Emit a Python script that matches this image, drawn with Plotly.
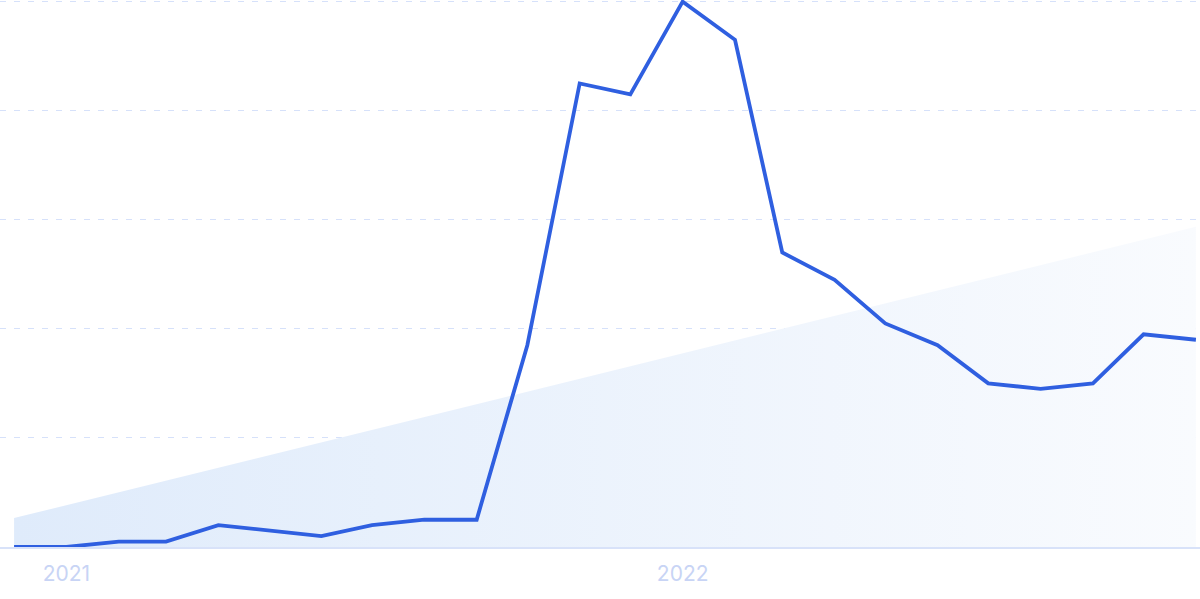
import plotly.graph_objects as go

months = ["2020-12-01", "2021-01-01", "2021-02-01", "2021-03-01", "2021-04-01", "2021-05-01",
          "2021-06-01", "2021-07-01", "2021-08-01", "2021-09-01", "2021-10-01", "2021-11-01",
          "2021-12-01", "2022-01-01", "2022-02-01", "2022-03-01", "2022-04-01", "2022-05-01",
          "2022-06-01", "2022-07-01", "2022-08-01", "2022-09-01", "2022-10-01", "2022-11-01"]
interest = [0, 0, 1, 1, 4, 3, 2, 4, 5, 5, 37, 85, 83, 100, 93, 54, 49, 41, 37, 30, 29, 30, 39, 38]

trend_dates = ["2020-12-01", "2022-11-01"]
trend_values = [5.3, 58.7]

fig = go.Figure()

# trend wedge with a soft horizontal gradient
fig.add_trace(go.Scatter(x=trend_dates, y=trend_values, mode='lines', line=dict(width=0),
                         fill='tozeroy',
                         fillgradient=dict(type='horizontal',
                                           colorscale=[[0, 'rgba(223,235,251,1)'],
                                                       [1, 'rgba(249,251,254,1)']]),
                         hoverinfo='skip', showlegend=False))

fig.add_trace(go.Scatter(x=months, y=interest, mode='lines',
                         line=dict(color='#2f5fe0', width=3.8), showlegend=False))

fig.update_layout(
    width=1200, height=599,
    margin=dict(l=0, r=0, t=0, b=52),
    plot_bgcolor='white', paper_bgcolor='white',
    font=dict(family='Inter', color='#c8d4f5'),
    xaxis=dict(range=["2020-11-22 16:00", "2022-11-03 10:00"], showgrid=False,
               tickformat='%Y', dtick='M12', tick0='2021-01-01', ticks='',
               tickfont=dict(size=21, color='#c8d4f5'), ticklabelstandoff=7,
               showline=True, linecolor='#d8e2f9', linewidth=1.5, zeroline=False),
    yaxis=dict(range=[0, 100.3], dtick=20, showticklabels=False, zeroline=False,
               gridcolor='#d6e1fa', griddash='6px,8px', gridwidth=1.3),
)

fig.write_html("out.html", config={'displayModeBar': False},
               post_script="document.body.style.margin='0';")
